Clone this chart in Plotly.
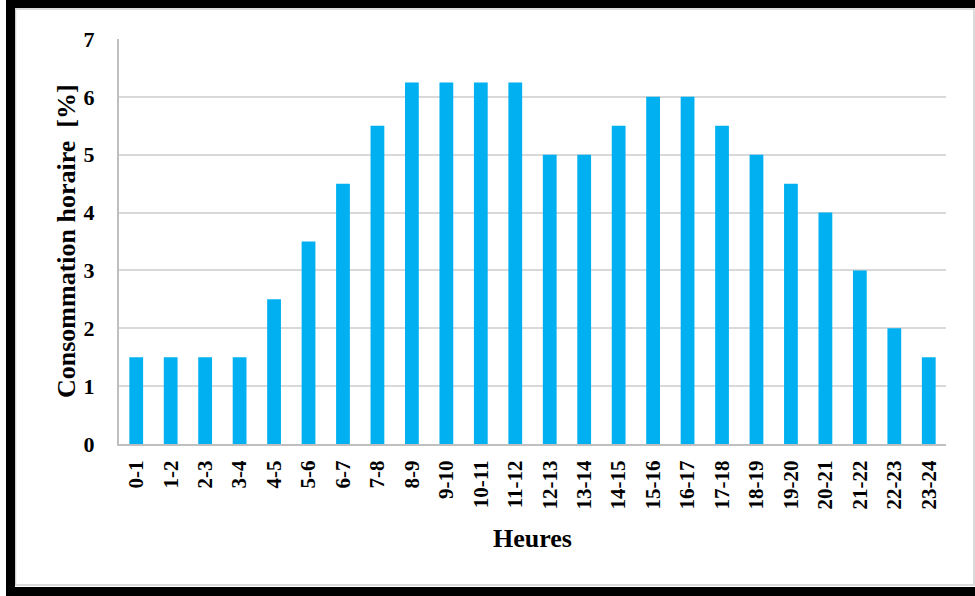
import plotly.graph_objects as go

# Hourly consumption profile (% of daily total)
hours = ["0-1", "1-2", "2-3", "3-4", "4-5", "5-6", "6-7", "7-8", "8-9", "9-10",
         "10-11", "11-12", "12-13", "13-14", "14-15", "15-16", "16-17", "17-18",
         "18-19", "19-20", "20-21", "21-22", "22-23", "23-24"]
consumption = [1.5, 1.5, 1.5, 1.5, 2.5, 3.5, 4.5, 5.5, 6.25, 6.25,
               6.25, 6.25, 5, 5, 5.5, 6, 6, 5.5, 5, 4.5, 4, 3, 2, 1.5]
y_ticks = [0, 1, 2, 3, 4, 5, 6, 7]

W, H = 975, 596
L, R, T, B = 119, 29, 39, 152
PW, PH = W - L - R, H - T - B


def px(x):
    return (x - L) / PW


def py(y):
    return (H - B - y) / PH


font_family = "Liberation Serif, Times New Roman, serif"

fig = go.Figure(go.Bar(
    x=hours, y=consumption,
    marker=dict(color="#00B0F0", line=dict(width=0)),
    width=0.4,
))

fig.update_layout(
    width=W, height=H,
    margin=dict(l=L, r=R, t=T, b=B),
    paper_bgcolor="white", plot_bgcolor="white",
    showlegend=False,
    font=dict(family=font_family, color="black"),
)

fig.update_xaxes(
    type="category",
    tickangle=-90,
    tickfont=dict(size=21, family=font_family, color="black", weight="bold"),
    showline=True, linecolor="#BFBFBF", linewidth=2,
    showgrid=False, ticks="", ticklabelstandoff=6,
)

fig.update_yaxes(
    range=[0, 7], tickvals=y_ticks,
    tickfont=dict(size=22, family=font_family, color="black", weight="bold"),
    showline=True, linecolor="#BFBFBF", linewidth=2,
    showgrid=True, gridcolor="#D9D9D9", gridwidth=2,
    zeroline=False, ticks="", ticklabelstandoff=18,
)

# Axis titles
fig.add_annotation(
    text="<b>Heures</b>", xref="paper", yref="paper",
    x=0.5, y=py(538), xanchor="center", yanchor="middle",
    showarrow=False, font=dict(size=26, family=font_family, color="black"),
)
fig.add_annotation(
    text="<b>Consommation horaire  [%]</b>", xref="paper", yref="paper",
    x=px(66), y=py(241), xanchor="center", yanchor="middle", textangle=-90,
    showarrow=False, font=dict(size=26, family=font_family, color="black"),
)

# Frame around the chart
frame = [
    (6, 0, 15, 596),     # left band
    (6, 0, 975, 8),      # top band
    (6, 587, 975, 596),  # bottom band
]
for x0, y0, x1, y1 in frame:
    fig.add_shape(type="rect", xref="paper", yref="paper",
                  x0=px(x0), x1=px(x1), y0=py(y1), y1=py(y0),
                  fillcolor="black", line=dict(width=0), layer="above")
fig.add_shape(type="rect", xref="paper", yref="paper",
              x0=px(15.5), x1=px(974), y0=py(585), y1=py(9),
              fillcolor="rgba(0,0,0,0)", line=dict(color="#D0D0D0", width=1.5),
              layer="below")

fig.write_html("out.html")
